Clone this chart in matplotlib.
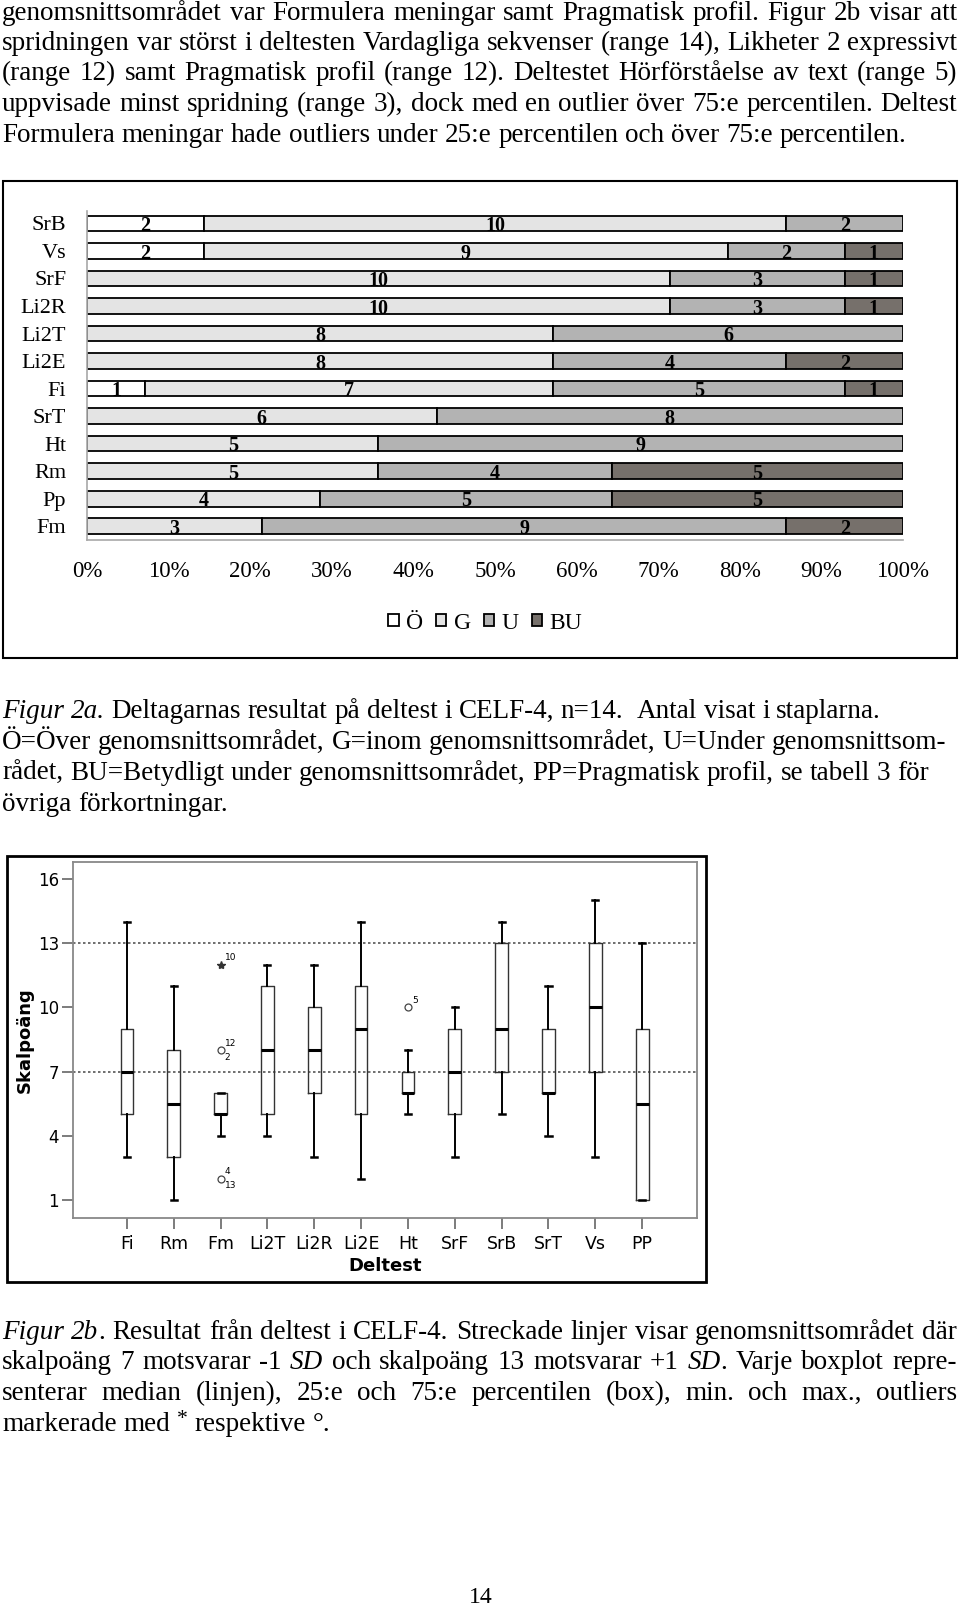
import re
import numpy as np
import matplotlib
matplotlib.use('Agg')
from matplotlib import pyplot as plt
from matplotlib.patches import Rectangle

# Figur 2a: antal deltagare per kategori (n=14)
cats_a = ['SrB', 'Vs', 'SrF', 'Li2R', 'Li2T', 'Li2E', 'Fi', 'SrT', 'Ht', 'Rm', 'Pp', 'Fm']
over = [2, 2, 0, 0, 0, 0, 1, 0, 0, 0, 0, 0]
inom = [10, 9, 10, 10, 8, 8, 7, 6, 5, 5, 4, 3]
under = [2, 2, 3, 3, 6, 4, 5, 8, 9, 4, 5, 9]
betydligt = [0, 1, 1, 1, 0, 2, 1, 0, 0, 5, 5, 2]
legend_names = ['Ö', 'G', 'U', 'BU']
pct_ticks = list(range(0, 101, 10))

# Figur 2b: boxplots per deltest
cats_b = ['Fi', 'Rm', 'Fm', 'Li2T', 'Li2R', 'Li2E', 'Ht', 'SrF', 'SrB', 'SrT', 'Vs', 'PP']
b_min = [3, 1, 4, 4, 3, 2, 5, 3, 5, 4, 3, 1]
b_q1 = [5, 3, 5, 5, 6, 5, 6, 5, 7, 6, 7, 1]
b_med = [7, 5.5, 5, 8, 8, 9, 6, 7, 9, 6, 10, 5.5]
b_q3 = [9, 8, 6, 11, 10, 11, 7, 9, 13, 9, 13, 9]
b_max = [14, 11, 6, 12, 12, 14, 8, 10, 14, 11, 15, 13]
b_fliers = [[], [], [8, 2], [], [], [], [10], [], [], [], [], []]
extreme_cat = ['Fm']
extreme_val = [12]
out_cat = ['Fm', 'Fm', 'Fm', 'Fm', 'Fm', 'Ht']
out_val = [12, 8, 8, 2, 2, 10]
out_case = ['10', '12', '2', '4', '13', '5']
out_side = ['up', 'up', 'down', 'up', 'down', 'up']
y_ticks_b = [1, 4, 7, 10, 13, 16]
sd_lines = [7, 13]

# texten på sidan
para_top = [
    'genomsnittsområdet var Formulera meningar samt Pragmatisk profil. Figur 2b visar att',
    'spridningen var störst i deltesten Vardagliga sekvenser (range 14), Likheter 2 expressivt',
    '(range 12) samt Pragmatisk profil (range 12). Deltestet Hörförståelse av text (range 5)',
    'uppvisade minst spridning (range 3), dock med en outlier över 75:e percentilen. Deltest',
    'Formulera meningar hade outliers under 25:e percentilen och över 75:e percentilen.',
]
caption_a = [
    '_Figur_ _2a._ Deltagarnas resultat på deltest i CELF-4, n=14.  Antal visat i staplarna.',
    'Ö=Över genomsnittsområdet, G=inom genomsnittsområdet, U=Under genomsnittsom-',
    'rådet, BU=Betydligt under genomsnittsområdet, PP=Pragmatisk profil, se tabell 3 för',
    'övriga förkortningar.',
]
caption_b = [
    '_Figur_ _2b_. Resultat från deltest i CELF-4. Streckade linjer visar genomsnittsområdet där',
    'skalpoäng 7 motsvarar -1 _SD_ och skalpoäng 13 motsvarar +1 _SD_. Varje boxplot repre-',
    'senterar median (linjen), 25:e och 75:e percentilen (box), min. och max., outliers',
    'markerade med ^* respektive °.',
]

W, H = 960, 1610
SERIF = 'Liberation Serif'
BODY = 19.5
plt.rcParams['font.family'] = ['DejaVu Sans']

fig = plt.figure(figsize=(W / 100, H / 100), dpi=100)
rend = fig.canvas.get_renderer()


def fx(x):
    return x / W


def fy(y):
    return 1 - y / H


def parse(word):
    segs = []
    for part in re.split(r'(_[^_]+_|\^.)', word):
        if not part:
            continue
        if part[0] == '_' and part[-1] == '_' and len(part) > 2:
            segs.append((part[1:-1], 'i'))
        elif part[0] == '^':
            segs.append((part[1:], 's'))
        else:
            segs.append((part, 'n'))
    return segs


def put_line(y, line, justify=False, x0=2, x1=957, size=BODY):
    base = y + 7
    words = []
    for w in line.split(' '):
        pieces = []
        width = 0
        for txt, st in parse(w):
            t = fig.text(0, 0, txt, family=SERIF,
                         fontsize=size * (0.8 if st == 's' else 1),
                         fontstyle='italic' if st == 'i' else 'normal',
                         va='baseline')
            pieces.append((t, width, st))
            width += t.get_window_extent(rend).width
        words.append((pieces, width))
    space = 0.25 * size * 100 / 72
    total = sum(w for _, w in words)
    gap = (x1 - x0 - total) / (len(words) - 1) if justify else space
    x = x0
    for pieces, width in words:
        for t, off, st in pieces:
            t.set_position((fx(x + off), fy(base - (7 if st == 's' else 0))))
        x += width + gap


for i, line in enumerate(para_top):
    put_line(12.5 + i * 30.5, line, justify=i < len(para_top) - 1)
for i, line in enumerate(caption_a):
    put_line(710.5 + i * 31.1, line)
for i, line in enumerate(caption_b):
    put_line(1331.6 + i * 30.8, line, justify=i < len(caption_b) - 1)
fig.text(fx(481), fy(1597), '14', family=SERIF, fontsize=17, ha='center', va='center')

# ---- Figur 2a, staplar
fig.add_artist(Rectangle((fx(3), fy(658)), 954 / W, 477 / H, transform=fig.transFigure,
                         fill=False, ec='black', lw=1.5))
ax1 = fig.add_axes([fx(87), fy(540), 816 / W, 329 / H])
series = [over, inom, under, betydligt]
colors = ['white', '#e4e4e4', '#b3b3b3', '#76706b']
ypos = np.arange(len(cats_a))
totals = np.sum(series, axis=0)
left = np.zeros(len(cats_a))
for vals, col, name in zip(series, colors, legend_names):
    vals = np.array(vals)
    pct = vals / totals * 100
    m = vals > 0
    ax1.barh(ypos[m], pct[m], left=left[m], height=0.57, color=col,
             edgecolor='black', linewidth=1.3, label=name)
    for y, l, p, v in zip(ypos[m], left[m], pct[m], vals[m]):
        ax1.text(l + p / 2, y + 0.1, str(v), ha='center', va='center',
                 family=SERIF, fontsize=14.5, fontweight='bold')
    left += pct
ax1.set_xlim(0, 100)
ax1.set_ylim(11.5, -0.45)
ax1.set_xticks(pct_ticks, [f'{p}%' for p in pct_ticks], family=SERIF, fontsize=16.5)
ax1.set_yticks(ypos, cats_a, family=SERIF, fontsize=16)
ax1.tick_params(axis='x', length=0, pad=15)
ax1.tick_params(axis='y', length=0, pad=15)
for s in ['top', 'right']:
    ax1.spines[s].set_visible(False)
for s in ['left', 'bottom']:
    ax1.spines[s].set_color('#a8a8a8')
    ax1.spines[s].set_linewidth(1.2)
ax1.legend(loc='center', bbox_to_anchor=(fx(485), fy(623)), bbox_transform=fig.transFigure,
           ncol=4, frameon=False, prop={'family': SERIF, 'size': 17},
           handlelength=0.45, handleheight=0.45, handletextpad=0.3,
           columnspacing=0.55, borderpad=0)

# ---- Figur 2b, boxplots
fig.add_artist(Rectangle((fx(7), fy(1282)), 699 / W, 426 / H, transform=fig.transFigure,
                         fill=False, ec='black', lw=2))
ax2 = fig.add_axes([fx(73), fy(1218), 624 / W, 356 / H])
pos = np.arange(1, len(cats_b) + 1)
stats = []
for i in range(len(cats_b)):
    stats.append(dict(whislo=b_min[i], q1=b_q1[i], med=b_med[i], q3=b_q3[i],
                      whishi=b_max[i], fliers=b_fliers[i]))
ax2.bxp(stats, positions=pos, widths=0.27, capwidths=0.13, manage_ticks=False,
        boxprops=dict(color='#333333', lw=1),
        whiskerprops=dict(color='black', lw=1.4),
        capprops=dict(color='black', lw=1.8),
        medianprops=dict(color='black', lw=2.2),
        flierprops=dict(marker='o', mfc='none', mec='#444444', ms=5, mew=0.9))
for c, v in zip(extreme_cat, extreme_val):
    ax2.plot(pos[cats_b.index(c)], v, marker='*', ms=6, color='#333333', ls='none')
for c, v, txt, side in zip(out_cat, out_val, out_case, out_side):
    ax2.annotate(txt, (pos[cats_b.index(c)], v), xytext=(3, 5 if side == 'up' else -5),
                 textcoords='offset points', fontsize=6.5, ha='left', va='center')
for v in sd_lines:
    ax2.axhline(v, ls=(0, (1.5, 1.5)), color='#555555', lw=1.2, zorder=0)
ax2.set_xlim(-0.15, 13.17)
ax2.set_ylim(0.16, 16.79)
ax2.set_yticks(y_ticks_b)
ax2.set_xticks(pos, cats_b)
ax2.tick_params(direction='out', length=8, color='#666666', width=1.2, pad=2)
ax2.tick_params(axis='y', labelsize=12)
ax2.tick_params(axis='x', labelsize=12.5, pad=4)
for s in ax2.spines.values():
    s.set_color('#888888')
    s.set_linewidth(1.3)
ax2.set_xlabel('Deltest', fontsize=13, fontweight='bold', labelpad=3)
ax2.set_ylabel('Skalpoäng', fontsize=13, fontweight='bold', labelpad=3)

fig.savefig('out.png', dpi=100)
